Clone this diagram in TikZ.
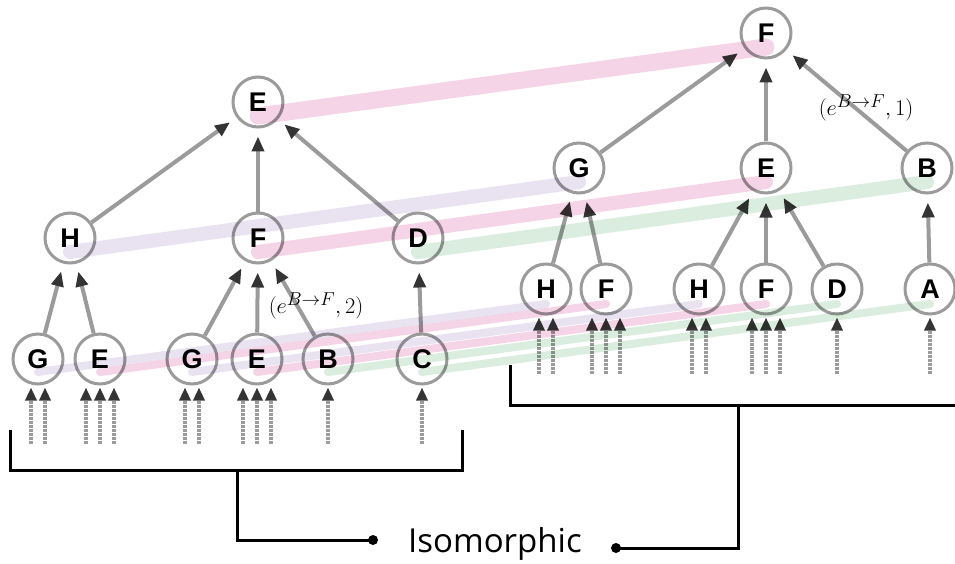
\documentclass[tikz,border=0pt]{standalone}
\usepackage{fontspec}
\usepackage{tikz}
\usetikzlibrary{
  positioning,
  arrows.meta
}
\usepackage{xcolor}
\newfontfamily\nodefont{Liberation Sans}
\newfontfamily\isofont{Open Sans}
\definecolor{vgray}{RGB}{155,155,155}
\definecolor{tipgray}{RGB}{52,52,52}
\definecolor{bandpink}{RGB}{244,212,230}
\definecolor{bandlav}{RGB}{232,226,241}
\definecolor{bandgreen}{RGB}{218,237,223}

\begin{document}
\begin{tikzpicture}[x=1pt,y=-1pt,
    vert/.style={circle,draw=vgray,line width=3pt,fill=white,minimum size=50pt,inner sep=0pt,
      font=\nodefont\bfseries\fontsize{27}{30}\selectfont},
    edge/.style={draw=vgray,line width=4pt,shorten >=8pt,
      -{Triangle[length=15pt,width=12pt,color=tipgray]}},
    inedge/.style={draw=vgray,line width=4pt,dash pattern=on 2.5pt off 1.5pt,
      -{Triangle[length=13pt,width=11pt,color=tipgray]}},
    band/.style={line width=#1,line cap=round,blend mode=multiply},
    brk/.style={line width=3pt,black},
    lbl/.style={font=\fontsize{24.88}{28}\selectfont,inner sep=0pt}]
        \useasboundingbox (0,0) rectangle (955,564);

        % left tree
        \node[vert] (lE) at (258,102) {E};
        \node[vert] (lH) at (70,238) {H};
        \node[vert] (lF) at (258,238) {F};
        \node[vert] (lD) at (418,238) {D};
        \node[vert] (lG1) at (38,359) {G};
        \node[vert] (lE1) at (100,359) {E};
        \node[vert] (lG2) at (192,359) {G};
        \node[vert] (lE2) at (257,359) {E};
        \node[vert] (lB) at (328,359) {B};
        \node[vert] (lC) at (422,359) {C};

        % right tree
        \node[vert] (rF) at (766,33) {F};
        \node[vert] (rG) at (579,168) {G};
        \node[vert] (rE) at (766,168) {E};
        \node[vert] (rB) at (927,168) {B};
        \node[vert] (rH1) at (546,289) {H};
        \node[vert] (rF1) at (606,289) {F};
        \node[vert] (rH2) at (699,289) {H};
        \node[vert] (rF2) at (766,289) {F};
        \node[vert] (rD) at (837,289) {D};
        \node[vert] (rA) at (930,289) {A};

        \foreach \a/\b in {lH/lE,lF/lE,lD/lE,lG1/lH,lE1/lH,lG2/lF,lE2/lF,lB/lF,lC/lD,
                           rG/rF,rE/rF,rB/rF,rH1/rG,rF1/rG,rH2/rE,rF2/rE,rD/rE,rA/rB}
            \draw[edge] (\a) -- (\b);

        \node[lbl] (lw2) at (316,306) {\scalebox{0.9}{$(e^{B\to F},2)$}};
        \node[lbl] (lw1) at (866,108) {\scalebox{0.9}{$(e^{B\to F},1)$}};

        % incoming edges of the leaves
        \foreach \n/\offs in {lG1/{-7,7},lE1/{-14,0,14},lG2/{-7,7},lE2/{-14,0,14},lB/{0},lC/{0},
                              rH1/{-7,7},rF1/{-14,0,14},rH2/{-7,7},rF2/{-14,0,14},rD/{0},rA/{0}}
            \foreach \d in \offs
                \draw[inedge] ([xshift=\d pt,yshift=-58pt]\n.south) -- ([xshift=\d pt,yshift=-2pt]\n.south);

        % matching bands
        \draw[band=17pt,bandpink] ([yshift=-14pt]lE.center) -- ([yshift=-14pt]rF.center);
        \draw[band=14pt,bandlav] ([yshift=-14pt]lH.center) -- ([yshift=-14pt]rG.center);
        \draw[band=14pt,bandpink] ([yshift=-14pt]lF.center) -- ([yshift=-14pt]rE.center);
        \draw[band=14pt,bandgreen] ([yshift=-14pt]lD.center) -- ([yshift=-14pt]rB.center);
        \foreach \a/\b/\c in {lG1/rH1/bandlav,lE1/rF1/bandpink,lG2/rH2/bandlav,
                              lE2/rF2/bandpink,lB/rD/bandgreen,lC/rA/bandgreen}
            \draw[band=8pt,\c] ([yshift=-13pt]\a.center) -- ([yshift=-15pt]\b.center);

        % brackets
        \node[font=\isofont\fontsize{33}{38}\selectfont,anchor=base west,inner sep=0pt] (iso) at (408,552) {Isomorphic};
        \coordinate (lb1) at (10,430);
        \coordinate (lb2) at (462,430);
        \coordinate (lstem) at (237,470);
        \coordinate (ldot) at (373,540);
        \coordinate (rb1) at (510,365);
        \coordinate (rb2) at (955,405);
        \coordinate (rstem) at (738,405);
        \coordinate (rdot) at (616,548);
        \draw[brk] (lb1) -- ++(0,40) -| (lb2);
        \draw[brk] (lstem) |- (ldot);
        \fill (ldot) circle (5pt);
        \draw[brk] (rb1) |- (rb2);
        \draw[brk] (rstem) |- (rdot);
        \fill (rdot) circle (5pt);
    \end{tikzpicture}
\end{document}
